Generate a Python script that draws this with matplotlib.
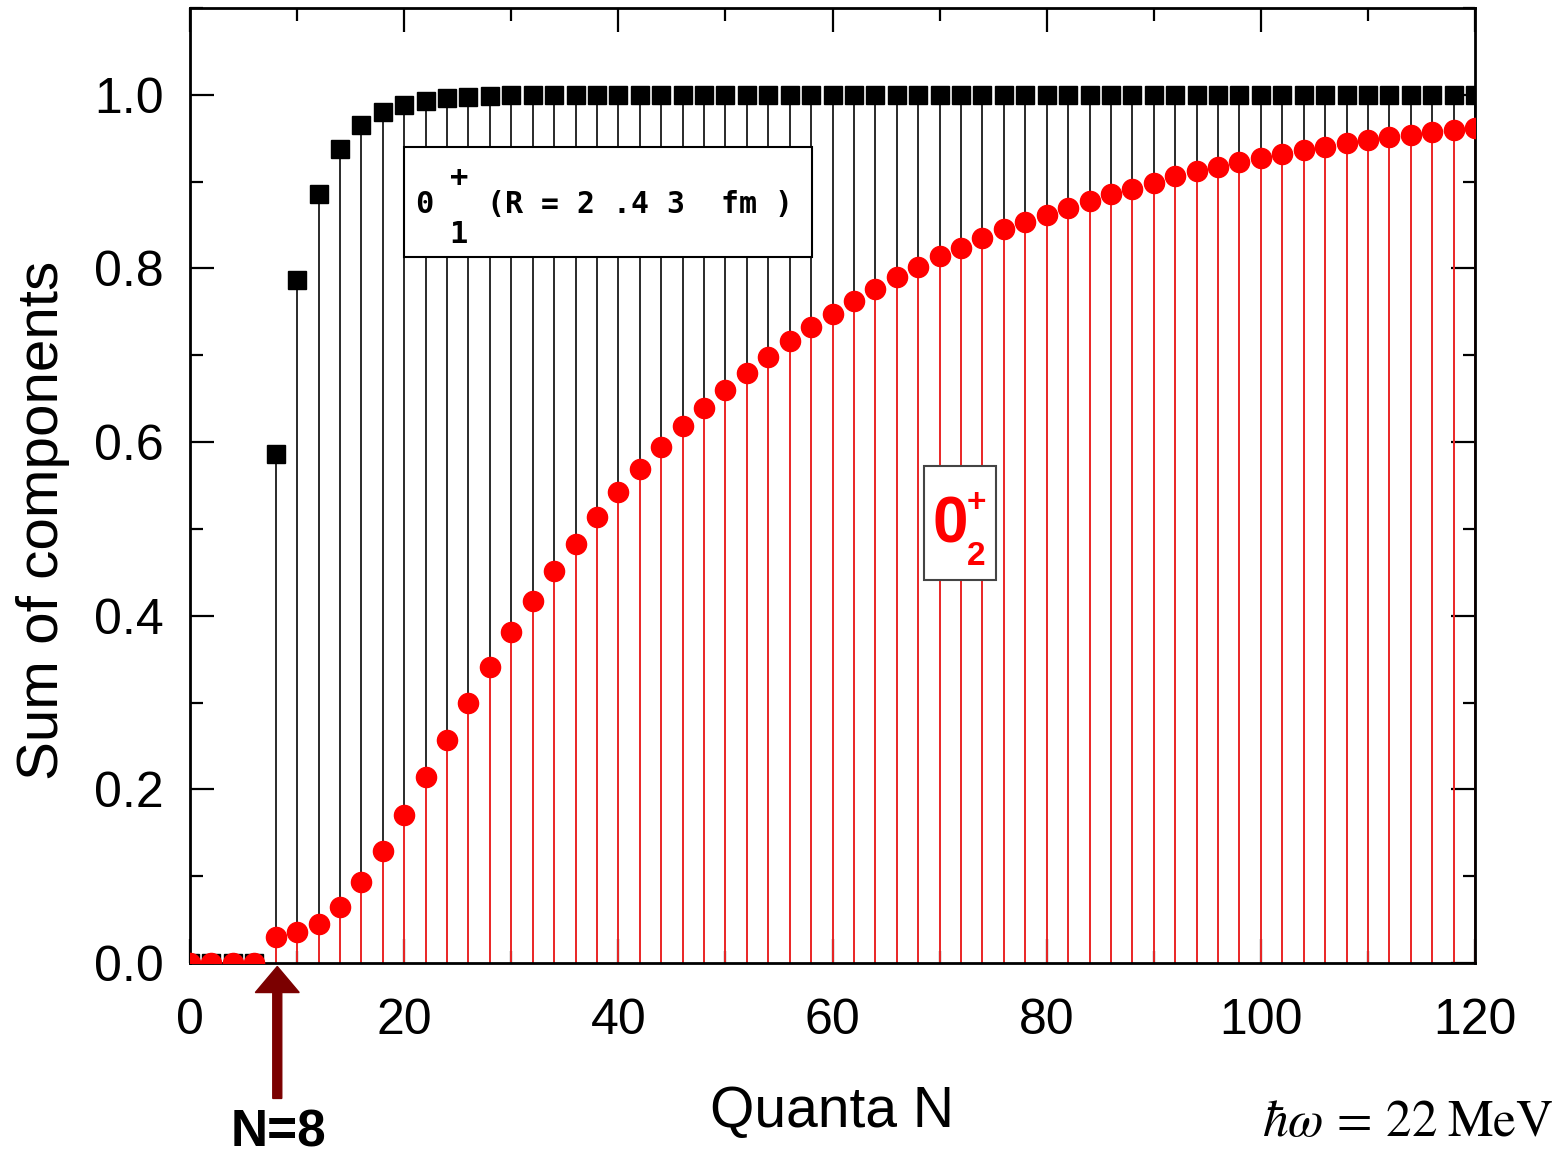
import matplotlib.pyplot as plt
import numpy as np
from matplotlib.patches import Rectangle, FancyArrow
from matplotlib.ticker import MultipleLocator, FormatStrFormatter

# harmonic-oscillator quanta N (even values only)
quanta = np.arange(0, 122, 2)

# accumulated sum of components, 0+_1 state (R = 2.43 fm)
sum_01 = [0.0, 0.0, 0.0, 0.0,
          0.586, 0.787, 0.886, 0.938, 0.965, 0.980, 0.988, 0.993, 0.996, 0.998, 0.999,
          1.0, 1.0, 1.0, 1.0, 1.0, 1.0, 1.0, 1.0, 1.0, 1.0,
          1.0, 1.0, 1.0, 1.0, 1.0, 1.0, 1.0, 1.0, 1.0, 1.0,
          1.0, 1.0, 1.0, 1.0, 1.0, 1.0, 1.0, 1.0, 1.0, 1.0,
          1.0, 1.0, 1.0, 1.0, 1.0, 1.0, 1.0, 1.0, 1.0, 1.0,
          1.0, 1.0, 1.0, 1.0, 1.0, 1.0]

# accumulated sum of components, 0+_2 state
sum_02 = [0.0, 0.0, 0.0, 0.0,
          0.030, 0.036, 0.045, 0.064, 0.093, 0.129, 0.171, 0.214, 0.257, 0.300,
          0.341, 0.381, 0.417, 0.451, 0.483, 0.514, 0.542, 0.569, 0.594, 0.618,
          0.639, 0.660, 0.680, 0.698, 0.716, 0.732, 0.748, 0.763, 0.776, 0.790,
          0.802, 0.814, 0.824, 0.835, 0.845, 0.853, 0.862, 0.870, 0.878, 0.886,
          0.892, 0.899, 0.906, 0.912, 0.917, 0.923, 0.927, 0.932, 0.936, 0.940,
          0.944, 0.948, 0.951, 0.954, 0.957, 0.960, 0.962]

plt.rcParams['font.family'] = ['Liberation Sans', 'DejaVu Sans']
plt.rcParams['mathtext.fontset'] = 'stix'

fig = plt.figure(figsize=(15.62, 11.6), dpi=100)
ax = fig.add_axes([190/1562, 1 - 963/1160, (1475 - 190)/1562, (963 - 8)/1160])

# stems first, then markers on top
ax.vlines(quanta, 0, sum_01, colors='#2a2a2a', lw=1.4, zorder=1)
ax.vlines(quanta, 0, sum_02, colors='#ff2a2a', lw=1.3, zorder=2)
ax.plot(quanta, sum_01, 's', ms=13, color='black', zorder=3)
ax.plot(quanta, sum_02, 'o', ms=14.5, color='red', mec='red', zorder=4)

ax.set_xlim(0, 120)
ax.set_ylim(0, 1.1)
ax.xaxis.set_major_locator(MultipleLocator(20))
ax.xaxis.set_minor_locator(MultipleLocator(10))
ax.yaxis.set_major_locator(MultipleLocator(0.2))
ax.yaxis.set_minor_locator(MultipleLocator(0.1))
ax.yaxis.set_major_formatter(FormatStrFormatter('%.1f'))
ax.tick_params(which='both', direction='in', top=True, right=True,
               width=1.6, labelsize=36, pad=19)
ax.tick_params(axis='x', which='both', pad=25)
ax.tick_params(which='major', length=17)
ax.tick_params(which='minor', length=9)
for sp in ax.spines.values():
    sp.set_linewidth(2)

ax.set_xlabel('Quanta N', fontsize=41)
ax.xaxis.set_label_coords(0.5, -0.128)
ax.set_ylabel('Sum of components', fontsize=42)
ax.yaxis.set_label_coords(-0.093, 0.463)

# label box for the ground state
ax.add_patch(Rectangle((20.0, 0.8136), 38.1, 0.1266, fc='white', ec='black',
                       lw=1.5, zorder=5))
box_font = dict(family='DejaVu Sans Mono', fontweight='bold', zorder=6,
                va='baseline')
ax.text(21.85, 0.8642, '0', fontsize=22, ha='center', **box_font)
ax.text(25.1, 0.8955, '+', fontsize=22, ha='center', **box_font)
ax.text(25.1, 0.8297, '1', fontsize=22, ha='center', **box_font)
ax.text(27.75, 0.8642, '(R = 2 .4 3  fm )', fontsize=21.5, ha='left',
        **box_font)

# label box for the excited state
ax.add_patch(Rectangle((68.55, 0.4407), 6.69, 0.1313, fc='white', ec='#444444',
                       lw=1.5, zorder=5))
ax.text(70.95, 0.4848, '0', fontsize=46, fontweight='bold', color='red',
        ha='center', va='baseline', zorder=6)
ax.text(73.45, 0.520, '+', fontsize=24, fontweight='bold', color='red',
        ha='center', va='baseline', zorder=6)
ax.text(73.45, 0.458, '2', fontsize=24, fontweight='bold', color='red',
        ha='center', va='baseline', zorder=6)

# arrow marking N=8 below the axis
ax.add_patch(FancyArrow(8.15, -0.156, 0, 0.152, width=0.84, head_width=4.1,
                        head_length=0.030, length_includes_head=True,
                        color='#7b0000', clip_on=False, zorder=10))
ax.text(8.31, -0.2117, 'N=8', fontsize=37, fontweight='bold',
        ha='center', va='baseline')

fig.text(0.9945, 0.021, r'$\hbar\omega\,=\,22\;\mathrm{MeV}$', fontsize=37,
         ha='right', va='baseline')

fig.savefig('out.png', dpi=100)
